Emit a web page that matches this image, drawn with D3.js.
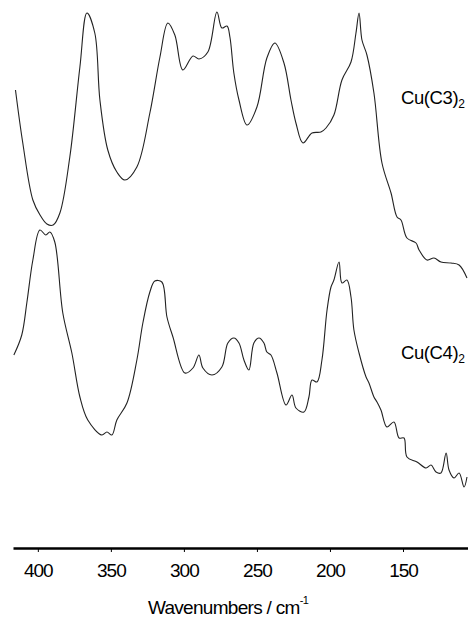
<!DOCTYPE html>
<html><head><meta charset="utf-8">
<script src="https://cdn.jsdelivr.net/npm/d3@7"></script>
<style>body{margin:0;background:#fff}svg{display:block}text{font-family:"Liberation Sans",Arial,sans-serif;fill:#000}</style>
</head><body>
<script>
const wavenumbersC3 = [415.3,410.3,403.4,398.5,393.8,389.5,384.9,378.1,371.2,366.4,361,357.5,352.1,345.9,340.4,332.2,323.3,316.4,311,306.2,300.7,293.8,289.7,283.6,277.4,274,270.5,268.5,265.8,262.3,256.8,250,243.2,237.7,231.5,226.7,223.3,218.5,212.3,206.2,202.7,197.3,191.8,185.6,182.2,180.1,178.1,174.7,169.9,164.4,158.2,154.1,151.4,147.3,141.1,139,133.6,128.8,124,117.1,111.6,106.2];
const intensityC3 = [92,81.4,70,67,65.2,65,67.4,78.6,96.6,107.4,103.4,90,80,75.6,74,76.6,87.4,98.6,105.4,103,96,98.8,98.2,99.6,107.6,104.4,104.8,102.6,95.4,90,85,88.6,98.4,101.4,97.4,90,85.4,81.4,83.4,83.6,84.4,87,94,97.6,103.4,107.4,102,99,91.4,77.4,71.4,66.6,66,62.4,61.4,60,58,58.4,57.6,57.4,57,54.4];
const wavenumbersC4 = [416.4,411,407.5,403.4,398.6,394.5,391.8,388.4,382.9,376.7,371.2,365.8,356.2,352.7,349.3,345.9,339,332.2,328.1,323.3,319.9,315.1,311.6,307.5,299.3,293.8,289.7,287,280.8,274,269.9,265.8,262.3,258.9,255.5,252.1,248.6,245.2,243.2,240.4,236.3,230.1,226,223.3,217.8,214.4,212.3,208.9,205.5,202,199.3,197.3,193.8,191.8,188.4,185.6,183.6,180.1,175.3,173.3,169.9,167.8,165.1,161,156.2,152.7,149.3,147.3,140.4,134.2,130.8,127.4,124,120.5,118.5,115.1,111.6,108.2,106.2];
const intensityC4 = [39,43,49.5,58,64,63,63.6,61.6,47.4,39.4,30.6,26,23,23.6,23,26,29.4,38,45.4,51.6,53.8,53.6,46.6,42.6,35.4,36.4,39,36.4,35,36.6,41.4,42.4,41.4,38,36,41.4,42.4,41.4,39.6,39,35.4,29,31,28.4,27.6,30.6,34,33.6,38,48,52.6,54,57.6,53.4,54,50.6,44,39.4,34.6,33.4,30.6,29.6,28,24.6,25.6,22.4,22.4,18.6,17.6,16.4,17,15.6,15.4,19.4,16,14.4,15.4,12.6,14.6];
const tickValues = [400,350,300,250,200,150];
const seriesNames = ["Cu(C3)", "Cu(C4)"];
const axisTitle = "Wavenumbers / cm";

const W = 468, H = 624;
const svg = d3.select("body").append("svg").attr("width", W).attr("height", H);
const x = d3.scaleLinear().domain([417, 105.5]).range([13, 468]);
const y = d3.scaleLinear().domain([0, 110]).range([550, 0]);
const line = d3.line().x(d => x(d[0])).y(d => y(d[1])).curve(d3.curveCatmullRom.alpha(0.5));

const series = [
  {name: seriesNames[0], pts: d3.zip(wavenumbersC3, intensityC3), ly: 104},
  {name: seriesNames[1], pts: d3.zip(wavenumbersC4, intensityC4), ly: 359}
];
series.forEach(s => {
  svg.append("path").attr("d", line(s.pts)).attr("fill", "none")
    .attr("stroke", "#222").attr("stroke-width", 1.1);
  const t = svg.append("text").attr("x", 401).attr("y", s.ly)
    .attr("font-size", 18.5).attr("letter-spacing", -0.4);
  t.append("tspan").text(s.name);
  t.append("tspan").attr("font-size", 12).attr("dy", 4).text("2");
});

// axis
const axisY = 548;
const ax = svg.append("g").attr("transform", `translate(0,${axisY})`)
  .call(d3.axisBottom(x).tickValues(tickValues).tickSize(4).tickSizeOuter(0).tickFormat(d3.format("d")).tickPadding(12));
ax.select(".domain").attr("stroke", "#000").attr("stroke-width", 2.6);
ax.selectAll(".tick line").attr("stroke", "#000").attr("stroke-width", 1);
ax.selectAll(".tick text").attr("font-size", 19).attr("letter-spacing", -1)
  .attr("font-family", '"Liberation Sans",Arial,sans-serif').attr("fill", "#000");

const title = svg.append("text").attr("x", 228).attr("y", 614).attr("text-anchor", "middle")
  .attr("font-size", 19).attr("letter-spacing", -0.7);
title.append("tspan").text(axisTitle);
title.append("tspan").attr("font-size", 11).attr("dy", -10).text("-1");
</script>
</body></html>
